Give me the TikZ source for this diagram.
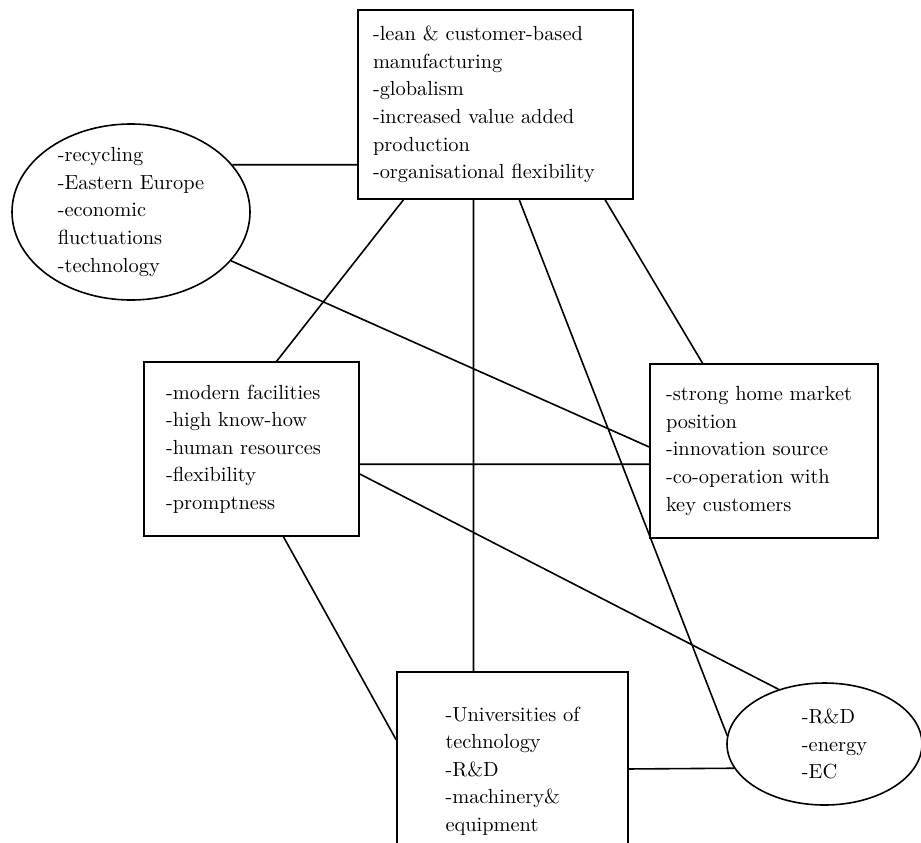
\documentclass[tikz,border=0pt]{standalone}
\usepackage{tikz}
\usetikzlibrary{shapes.geometric}
\tikzset {
    every node/.style={font=\fontsize{10.2}{13.8}\selectfont},
    box/.style={draw, line width=0.8pt, rectangle, align=left, inner sep=0pt},
    blob/.style={draw, line width=0.8pt, ellipse, inner sep=0pt},
    lbl/.style={draw=none, align=left},
    link/.style={line width=0.8pt}
}

\begin{document}
\begin{tikzpicture}[x=0.5pt, y=-0.5pt]
    \useasboundingbox (0,0) rectangle (921,842);
    \clip (0,0) rectangle (921,842);

    \node[box, minimum width=137.5pt, minimum height=94.5pt, inner xsep=7.5pt, text width=122.5pt] (trend) at (495.5,104.5)
        {-lean \& customer-based\\manufacturing\\-globalism\\-increased value added\\production\\-organisational flexibility};
    \node[blob, minimum width=119pt, minimum height=88pt,
          label={[lbl]center:{-recycling\\-Eastern Europe\\-economic\\fluctuations\\-technology}}] (env) at (131,212) {};
    \node[box, minimum width=107.5pt, minimum height=87pt, inner xsep=11pt, text width=85.5pt] (firm) at (251.5,449)
        {-modern facilities\\-high know-how\\-human resources\\-flexibility\\-promptness};
    \node[box, minimum width=114pt, minimum height=87pt, inner xsep=8pt, text width=98pt] (market) at (764,451)
        {-strong home market\\position\\-innovation source\\-co-operation with\\key customers};
    \node[box, minimum width=115.5pt, minimum height=99pt] (infra) at (512.5,771)
        {-Universities of\\technology\\-R\&D\\-machinery\&\\equipment};
    \node[blob, minimum width=97.5pt, minimum height=61pt,
          label={[lbl, xshift=5pt]center:{-R\&D\\-energy\\-EC}}] (policy) at (824.5,744) {};

    \draw[link]
        (env.25) -- (env.25 -| trend.west)
        (env.-26.1) -- (market.178.5)
        (trend.-134.4) -- (firm.74.9)
        (trend.-103.4) -- (trend.-103.4 |- infra.north)
        (trend.-76.6) -- (policy.175.9)
        (trend.-41.3) -- (market.125.5)
        (firm.-8.5) -- (firm.-8.5 -| market.west)
        (firm.-13.6) -- (policy.130.7)
        (firm.-70.7) -- (infra.165.9)
        (infra.1.5) -- (policy.195);
\end{tikzpicture}
\end{document}
